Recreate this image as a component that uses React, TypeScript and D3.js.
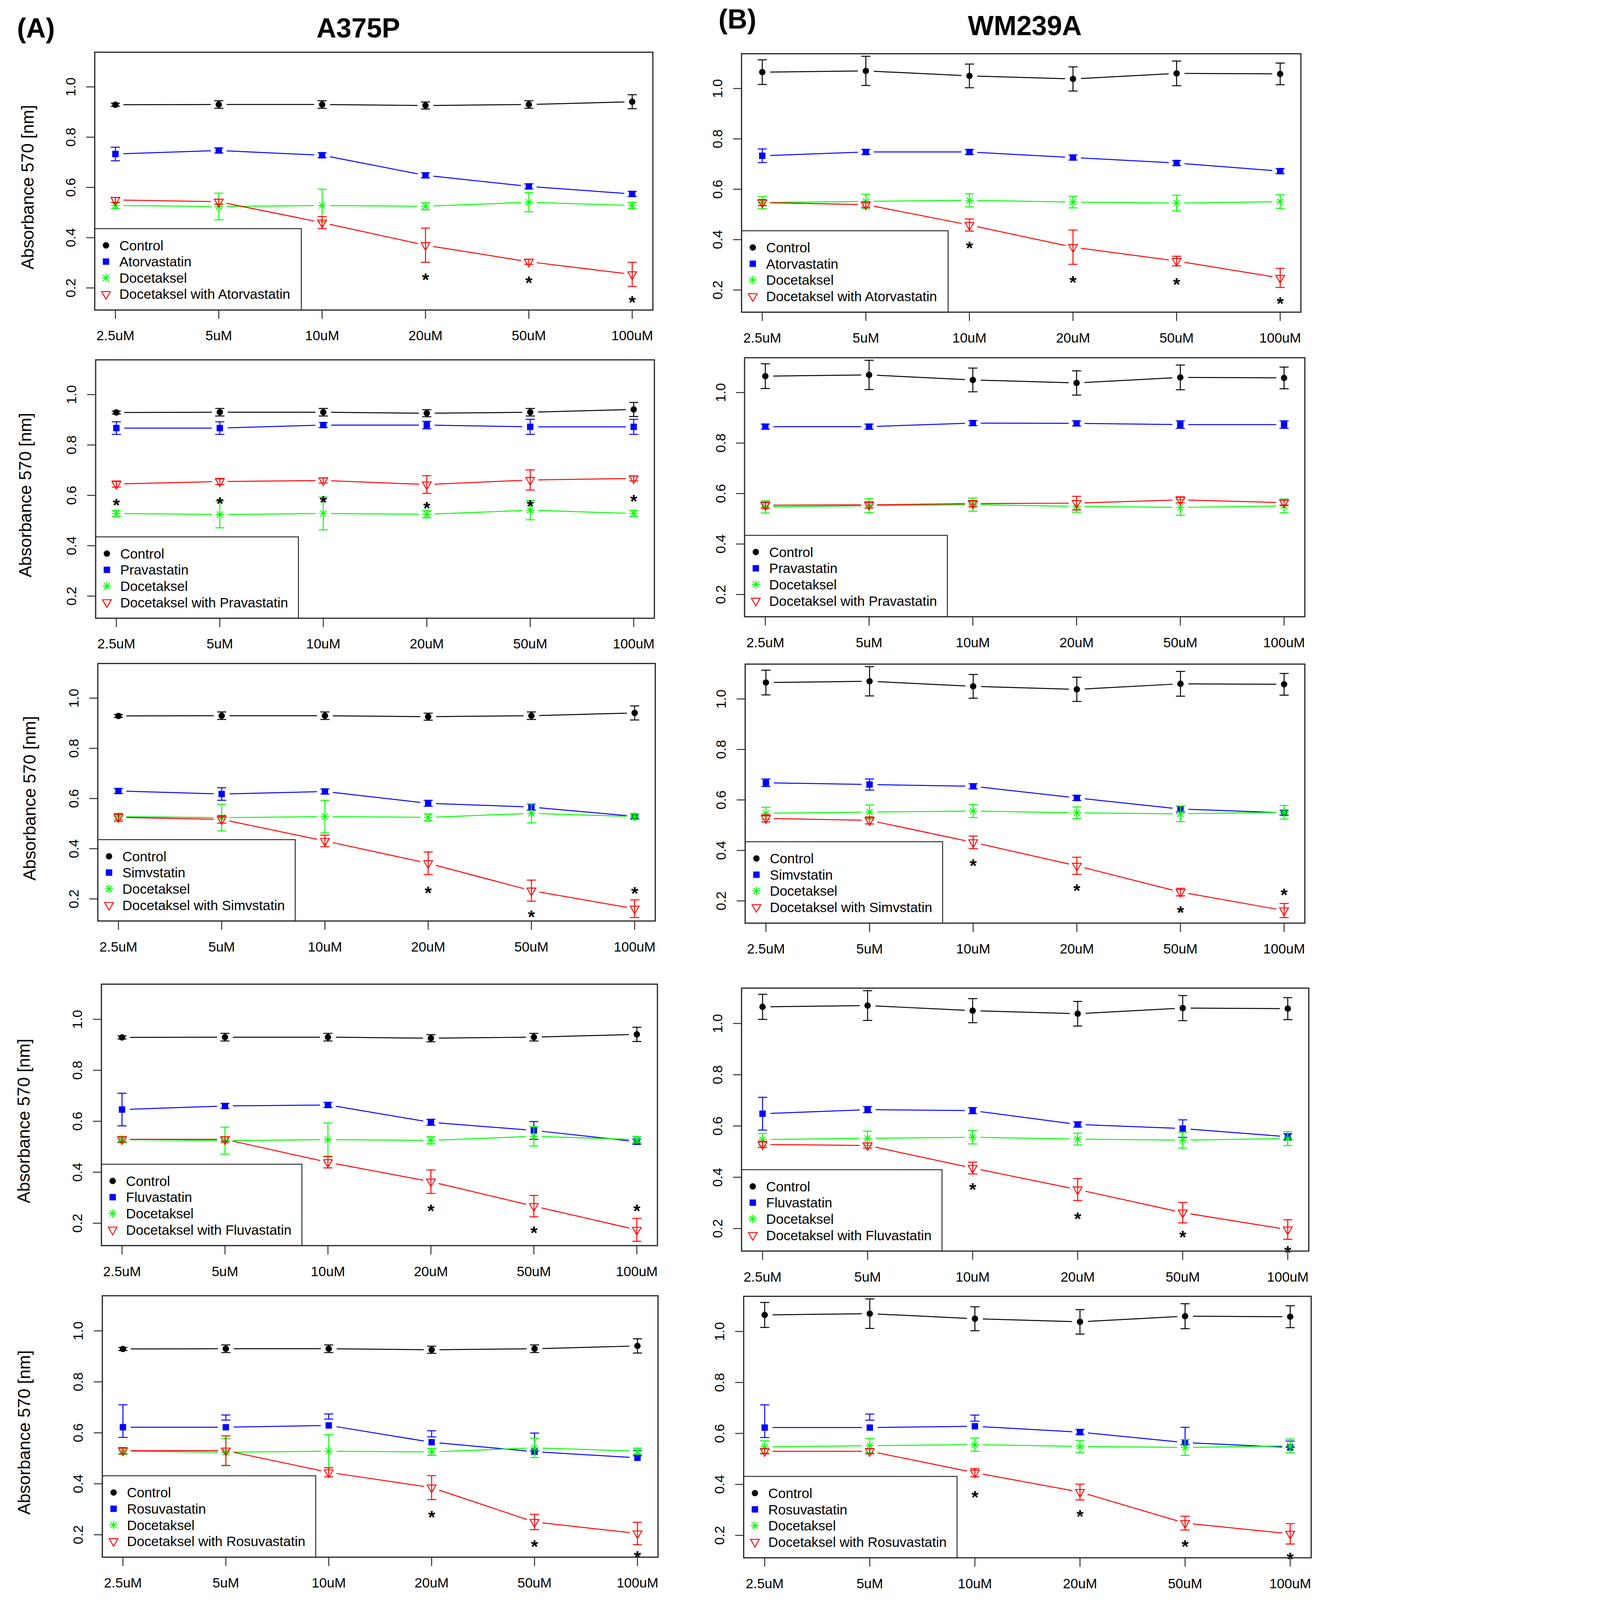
import { useEffect, useState } from "react";
import * as d3 from "d3";

// concentrations on the x axis
const doses = ["2.5uM", "5uM", "10uM", "20uM", "50uM", "100uM"];
const yTicks = [0.2, 0.4, 0.6, 0.8, 1.0];
const yDomain = [0.112, 1.138];

// shared series (same in every panel of a cell line)
const controlA = [0.929, 0.93, 0.93, 0.926, 0.93, 0.941];
const controlAErr = [0.006, 0.015, 0.015, 0.014, 0.015, 0.028];
const doceA = [0.528, 0.524, 0.528, 0.525, 0.541, 0.528];
const doceAErr = [0.012, 0.053, 0.065, 0.014, 0.038, 0.012];
const controlB = [1.065, 1.07, 1.05, 1.038, 1.06, 1.058];
const controlBErr = [0.049, 0.058, 0.047, 0.048, 0.049, 0.043];
const doceB = [0.547, 0.552, 0.556, 0.549, 0.545, 0.551];
const doceBErr = [0.024, 0.028, 0.026, 0.023, 0.031, 0.027];

// A375P
const atorA = [0.733, 0.747, 0.728, 0.648, 0.604, 0.574];
const atorAErr = [0.027, 0.01, 0.01, 0.01, 0.01, 0.01];
const atorComboA = [0.55, 0.543, 0.46, 0.37, 0.304, 0.254];
const atorComboAErr = [0.01, 0.01, 0.024, 0.068, 0.01, 0.048];
const atorStarsA = [null, null, null, 0.25, 0.237, 0.16];

const pravaA = [0.867, 0.867, 0.879, 0.879, 0.872, 0.872];
const pravaAErr = [0.025, 0.025, 0.01, 0.015, 0.03, 0.03];
const pravaComboA = [0.645, 0.655, 0.659, 0.643, 0.661, 0.667];
const pravaComboAErr = [0.012, 0.012, 0.01, 0.035, 0.04, 0.01];
const pravaStarsA = [0.579, 0.585, 0.589, 0.567, 0.574, 0.595];

const simvaA = [0.63, 0.618, 0.628, 0.581, 0.566, 0.529];
const simvaAErr = [0.01, 0.025, 0.01, 0.012, 0.012, 0.01];
const simvaComboA = [0.525, 0.517, 0.431, 0.342, 0.233, 0.161];
const simvaComboAErr = [0.015, 0.015, 0.023, 0.045, 0.042, 0.035];
const simvaStarsA = [null, null, null, 0.241, 0.146, 0.239];

const fluvaA = [0.646, 0.66, 0.664, 0.596, 0.564, 0.52];
const fluvaAErr = [0.064, 0.01, 0.01, 0.012, 0.035, 0.01];
const fluvaComboA = [0.529, 0.529, 0.439, 0.363, 0.267, 0.174];
const fluvaComboAErr = [0.01, 0.01, 0.022, 0.046, 0.042, 0.045];
const fluvaStarsA = [null, null, null, 0.265, 0.18, 0.265];

const rosuvaA = [0.622, 0.622, 0.629, 0.563, 0.526, 0.502];
const rosuvaComboA = [0.53, 0.53, 0.445, 0.385, 0.25, 0.205];
const rosuvaComboAErr = [0.012, 0.058, 0.018, 0.047, 0.03, 0.044];
const rosuvaStarsA = [null, null, null, 0.286, 0.171, 0.128];

// WM239A
const atorB = [0.733, 0.748, 0.748, 0.726, 0.704, 0.672];
const atorBErr = [0.027, 0.01, 0.01, 0.01, 0.01, 0.01];
const atorComboB = [0.547, 0.539, 0.458, 0.37, 0.315, 0.248];
const atorComboBErr = [0.012, 0.01, 0.024, 0.068, 0.019, 0.038];
const atorStarsB = [null, null, 0.384, 0.248, 0.239, 0.163];

const pravaB = [0.865, 0.865, 0.879, 0.878, 0.873, 0.873];
const pravaBErr = [0.01, 0.01, 0.01, 0.01, 0.015, 0.015];
const pravaComboB = [0.554, 0.555, 0.56, 0.562, 0.575, 0.564];
const pravaComboBErr = [0.012, 0.012, 0.012, 0.027, 0.012, 0.01];
const pravaStarsB = [null, null, null, null, null, null];

const simvaB = [0.668, 0.661, 0.654, 0.608, 0.564, 0.549];
const simvaBErr = [0.015, 0.022, 0.01, 0.01, 0.012, 0.01];
const simvaComboB = [0.527, 0.519, 0.432, 0.339, 0.235, 0.162];
const simvaComboBErr = [0.014, 0.014, 0.025, 0.034, 0.015, 0.028];
const simvaStarsB = [null, null, 0.357, 0.258, 0.171, 0.241];

const fluvaB = [0.648, 0.664, 0.66, 0.606, 0.59, 0.558];
const fluvaBErr = [0.064, 0.012, 0.012, 0.01, 0.034, 0.012];
const fluvaComboB = [0.528, 0.524, 0.436, 0.352, 0.262, 0.196];
const fluvaComboBErr = [0.012, 0.01, 0.023, 0.043, 0.04, 0.038];
const fluvaStarsB = [null, null, 0.37, 0.256, 0.184, 0.124];

const rosuvaB = [0.623, 0.623, 0.628, 0.605, 0.564, 0.545];
const rosuvaComboB = [0.53, 0.53, 0.446, 0.37, 0.248, 0.206];
const rosuvaComboBErr = [0.01, 0.01, 0.016, 0.031, 0.027, 0.04];
const rosuvaStarsB = [null, null, 0.367, 0.291, 0.173, 0.124];

// plot boxes [left, right, top, bottom] in page pixels
const boxesA = [
  [312, 2150, 172, 1021],
  [315, 2155, 1185, 2036],
  [322, 2158, 2185, 3033],
  [334, 2165, 3241, 4102],
  [337, 2167, 4267, 5128],
];
const boxesB = [
  [2442, 4284, 177, 1028],
  [2452, 4297, 1178, 2031],
  [2454, 4297, 2187, 3040],
  [2442, 4310, 3254, 4120],
  [2449, 4318, 4269, 5130],
];
const titleXA = [90, 82, 97, 77, 78];

const W = 4342;
const H = 5269;
const FONT = "'Liberation Sans', Arial, Helvetica, sans-serif";
const LEGEND_FS = 45;
const TICK_FS = 45;

const panels = [
  { box: boxesA[0], ytitle: titleXA[0], statin: "Atorvastatin", control: controlA, controlErr: controlAErr, sv: atorA, svErr: atorAErr, doce: doceA, doceErr: doceAErr, combo: atorComboA, comboErr: atorComboAErr, stars: atorStarsA },
  { box: boxesA[1], ytitle: titleXA[1], statin: "Pravastatin", control: controlA, controlErr: controlAErr, sv: pravaA, svErr: pravaAErr, doce: doceA, doceErr: doceAErr, combo: pravaComboA, comboErr: pravaComboAErr, stars: pravaStarsA },
  { box: boxesA[2], ytitle: titleXA[2], statin: "Simvstatin", control: controlA, controlErr: controlAErr, sv: simvaA, svErr: simvaAErr, doce: doceA, doceErr: doceAErr, combo: simvaComboA, comboErr: simvaComboAErr, stars: simvaStarsA },
  { box: boxesA[3], ytitle: titleXA[3], statin: "Fluvastatin", control: controlA, controlErr: controlAErr, sv: fluvaA, svErr: fluvaAErr, doce: doceA, doceErr: doceAErr, combo: fluvaComboA, comboErr: fluvaComboAErr, stars: fluvaStarsA },
  // the rosuvastatin error bars sit on the fluvastatin means in the original
  { box: boxesA[4], ytitle: titleXA[4], statin: "Rosuvastatin", control: controlA, controlErr: controlAErr, sv: rosuvaA, svErr: fluvaAErr, svMid: fluvaA, doce: doceA, doceErr: doceAErr, combo: rosuvaComboA, comboErr: rosuvaComboAErr, stars: rosuvaStarsA },
  { box: boxesB[0], statin: "Atorvastatin", control: controlB, controlErr: controlBErr, sv: atorB, svErr: atorBErr, doce: doceB, doceErr: doceBErr, combo: atorComboB, comboErr: atorComboBErr, stars: atorStarsB },
  { box: boxesB[1], statin: "Pravastatin", control: controlB, controlErr: controlBErr, sv: pravaB, svErr: pravaBErr, doce: doceB, doceErr: doceBErr, combo: pravaComboB, comboErr: pravaComboBErr, stars: pravaStarsB },
  { box: boxesB[2], statin: "Simvstatin", control: controlB, controlErr: controlBErr, sv: simvaB, svErr: simvaBErr, doce: doceB, doceErr: doceBErr, combo: simvaComboB, comboErr: simvaComboBErr, stars: simvaStarsB },
  { box: boxesB[3], statin: "Fluvastatin", control: controlB, controlErr: controlBErr, sv: fluvaB, svErr: fluvaBErr, doce: doceB, doceErr: doceBErr, combo: fluvaComboB, comboErr: fluvaComboBErr, stars: fluvaStarsB },
  { box: boxesB[4], statin: "Rosuvastatin", control: controlB, controlErr: controlBErr, sv: rosuvaB, svErr: fluvaBErr, svMid: fluvaB, doce: doceB, doceErr: doceBErr, combo: rosuvaComboB, comboErr: rosuvaComboBErr, stars: rosuvaStarsB },
];

let ctx: CanvasRenderingContext2D | null = null;
function textWidth(s: string, size: number) {
  if (!ctx) ctx = document.createElement("canvas").getContext("2d");
  if (!ctx) return s.length * size * 0.5;
  ctx.font = `${size}px ${FONT}`;
  return ctx.measureText(s).width;
}

function Marker({ kind, x, y, color }: any) {
  if (kind === "circle") return <circle cx={x} cy={y} r={10.5} fill={color} />;
  if (kind === "square")
    return <rect x={x - 10.5} y={y - 10.5} width={21} height={21} fill={color} />;
  if (kind === "asterisk") {
    const a = 14, b = 10;
    return (
      <g stroke={color} strokeWidth={3}>
        <line x1={x - a} y1={y} x2={x + a} y2={y} />
        <line x1={x} y1={y - a} x2={x} y2={y + a} />
        <line x1={x - b} y1={y - b} x2={x + b} y2={y + b} />
        <line x1={x - b} y1={y + b} x2={x + b} y2={y - b} />
      </g>
    );
  }
  // open down-pointing triangle
  const pts = [
    [x - 14.5, y - 8.4],
    [x + 14.5, y - 8.4],
    [x, y + 16.7],
  ];
  return <polygon points={pts.map((p) => p.join(",")).join(" ")} fill="none" stroke={color} strokeWidth={3} />;
}

function Panel({ p }: any) {
  const [left, right, top, bottom] = p.box;
  const x = d3.scaleLinear().domain([0.8, 6.2]).range([left, right]);
  const y = d3.scaleLinear().domain(yDomain).range([bottom, top]);
  const idx = doses.map((_, i) => i);

  const series = [
    { vals: p.control, err: p.controlErr, mid: p.control, color: "#000000", kind: "circle", label: "Control" },
    { vals: p.sv, err: p.svErr, mid: p.svMid || p.sv, color: "#0000ff", kind: "square", label: p.statin },
    { vals: p.doce, err: p.doceErr, mid: p.doce, color: "#00ff00", kind: "asterisk", label: "Docetaksel" },
    { vals: p.combo, err: p.comboErr, mid: p.combo, color: "#ff0000", kind: "triangle", label: "Docetaksel with " + p.statin },
  ];

  // legend sized from its longest label (R style bottomleft legend)
  const maxW = d3.max(series, (s) => textWidth(s.label, LEGEND_FS)) || 0;
  const legW = 81 + maxW + 34;
  const legH = 268;
  const gap = 26;

  return (
    <g>
      {series.map((s, si) => (
        <g key={si}>
          {idx.slice(0, -1).map((i) => {
            const x1 = x(i + 1), y1 = y(s.vals[i]);
            const x2 = x(i + 2), y2 = y(s.vals[i + 1]);
            const len = Math.hypot(x2 - x1, y2 - y1);
            const ux = (x2 - x1) / len, uy = (y2 - y1) / len;
            return (
              <line key={i} x1={x1 + ux * gap} y1={y1 + uy * gap} x2={x2 - ux * gap} y2={y2 - uy * gap}
                stroke={s.color} strokeWidth={3.2} />
            );
          })}
          {idx.map((i) => {
            const cx = x(i + 1);
            const lo = y(s.mid[i] - s.err[i]);
            const hi = y(s.mid[i] + s.err[i]);
            return (
              <g key={"e" + i} stroke={s.color} strokeWidth={3.2}>
                <line x1={cx} x2={cx} y1={lo} y2={hi} />
                <line x1={cx - 15} x2={cx + 15} y1={lo} y2={lo} />
                <line x1={cx - 15} x2={cx + 15} y1={hi} y2={hi} />
              </g>
            );
          })}
          {idx.map((i) => (
            <Marker key={"m" + i} kind={s.kind} x={x(i + 1)} y={y(s.vals[i])} color={s.color} />
          ))}
        </g>
      ))}

      {p.stars.map((v: number | null, i: number) =>
        v == null ? null : (
          <text key={"s" + i} x={x(i + 1)} y={y(v) + 35} textAnchor="middle" fontSize={60}
            fontWeight="bold" fontFamily={FONT} fill="#000">*</text>
        )
      )}

      {/* legend */}
      <rect x={left} y={bottom - legH} width={legW} height={legH} fill="none" stroke="#222" strokeWidth={3} />
      {series.map((s, si) => {
        const cy = bottom - legH + 55 + si * 53.5;
        return (
          <g key={"l" + si}>
            <Marker kind={s.kind} x={left + 37} y={cy} color={s.color} />
            <text x={left + 81} y={cy} dy="0.36em" fontSize={LEGEND_FS} fontFamily={FONT} fill="#000">
              {s.label}
            </text>
          </g>
        );
      })}

      {/* box */}
      <rect x={left} y={top} width={right - left} height={bottom - top} fill="none" stroke="#2b2b2b" strokeWidth={4} />

      {/* y axis */}
      {yTicks.map((t) => (
        <g key={"y" + t}>
          <line x1={left - 28} x2={left} y1={y(t)} y2={y(t)} stroke="#222" strokeWidth={3} />
          <text transform={`translate(${left - 80},${y(t)}) rotate(-90)`} textAnchor="middle" dy="0.36em"
            fontSize={TICK_FS} fontFamily={FONT} fill="#000">{t.toFixed(1)}</text>
        </g>
      ))}
      {p.ytitle != null && (
        <text transform={`translate(${p.ytitle},${(top + bottom) / 2 + 20}) rotate(-90)`} textAnchor="middle"
          dy="0.36em" fontSize={57} fontFamily={FONT} fill="#000">Absorbance 570 [nm]</text>
      )}

      {/* x axis */}
      {doses.map((d, i) => (
        <g key={d}>
          <line x1={x(i + 1)} x2={x(i + 1)} y1={bottom} y2={bottom + 29} stroke="#222" strokeWidth={3} />
          <text x={x(i + 1)} y={bottom + 100} textAnchor="middle" fontSize={TICK_FS} fontFamily={FONT} fill="#000">{d}</text>
        </g>
      ))}
    </g>
  );
}

export default function App() {
  // scale the drawing to the real viewport so nothing falls outside the photo
  const [vp, setVp] = useState({ w: W, h: H });
  useEffect(() => {
    document.body.style.margin = "0";
    const upd = () => setVp({ w: window.innerWidth || W, h: window.innerHeight || H });
    upd();
    window.addEventListener("resize", upd);
    return () => window.removeEventListener("resize", upd);
  }, []);
  const k = Math.min(1, vp.w / W, vp.h / H);

  return (
    <svg width={W * k} height={H * k} viewBox={`0 0 ${W} ${H}`}
      style={{ display: "block", background: "#fff" }}>
      <rect width={W} height={H} fill="#fff" />
      <text x={56} y={123} fontSize={90} fontWeight="bold" fontFamily={FONT}>(A)</text>
      <text x={1180} y={123} fontSize={90} fontWeight="bold" fontFamily={FONT} textAnchor="middle">A375P</text>
      <text x={2366} y={94} fontSize={90} fontWeight="bold" fontFamily={FONT}>(B)</text>
      <text x={3375} y={116} fontSize={90} fontWeight="bold" fontFamily={FONT} textAnchor="middle">WM239A</text>
      {panels.map((p, i) => (
        <Panel key={i} p={p} />
      ))}
    </svg>
  );
}
